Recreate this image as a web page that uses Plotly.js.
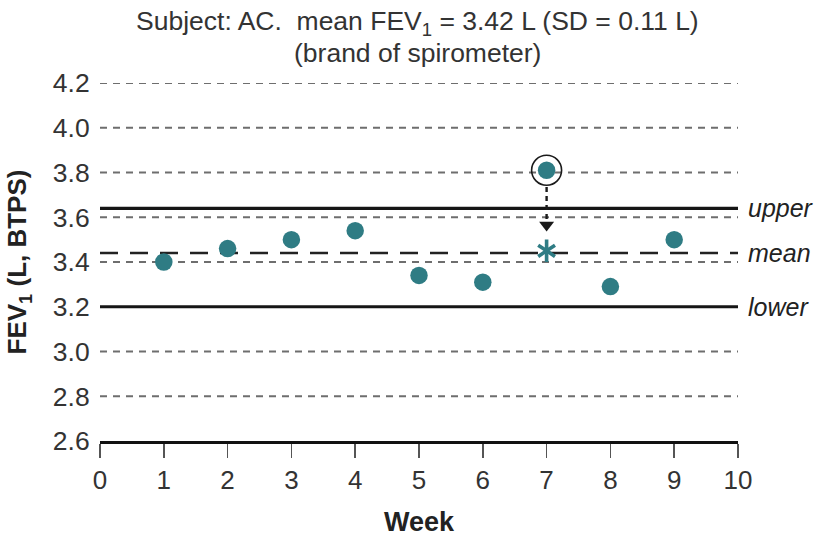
<!DOCTYPE html>
<html>
<head>
<meta charset="utf-8">
<script src="https://cdn.plot.ly/plotly-3.0.1.min.js"></script>
<style>html,body{margin:0;padding:0;background:#fff;}#chart{width:820px;height:537px;}</style>
</head>
<body>
<div id="chart"></div>
<script>
// Data
const weeks = [1, 2, 3, 4, 5, 6, 7, 8, 9];
const fev1 = [3.40, 3.46, 3.50, 3.54, 3.34, 3.31, 3.81, 3.29, 3.50];
const flaggedWeek = [7];
const flaggedValue = [3.81];
const correctedValue = [3.45];
const arrowYs = [3.735, 3.565];
const upperLimit = 3.64;
const meanLine = 3.44;
const lowerLimit = 3.20;
const lineXs = [0, 10];
const xTicks = [0, 1, 2, 3, 4, 5, 6, 7, 8, 9, 10];
const yTicks = [2.6, 2.8, 3.0, 3.2, 3.4, 3.6, 3.8, 4.0, 4.2];
const yTickText = ["2.6", "2.8", "3.0", "3.2", "3.4", "3.6", "3.8", "4.0", "4.2"];
const gridValues = [2.8, 3.0, 3.4, 3.6, 3.8, 4.0, 4.2];
const limitLabels = ["upper", "mean", "lower"];
const titleLine1 = "Subject: AC.&nbsp; mean FEV<sub>1</sub> = 3.42 L (SD = 0.11 L)";
const titleLine2 = "(brand of spirometer)";

const teal = "#2f7c84";
const FONT = "Liberation Sans, Arial, Helvetica, sans-serif";

const traces = [
  ...gridValues.map(v => ({
    x: lineXs, y: [v, v], mode: "lines", type: "scatter",
    line: {color: "#6e6e6e", width: 1.8, dash: "7px,6px"}
  })),
  {x: lineXs, y: [upperLimit, upperLimit], mode: "lines", type: "scatter",
   line: {color: "#151515", width: 3.2}},
  {x: lineXs, y: [lowerLimit, lowerLimit], mode: "lines", type: "scatter",
   line: {color: "#151515", width: 3.2}},
  {x: lineXs, y: [meanLine, meanLine], mode: "lines", type: "scatter",
   line: {color: "#222", width: 2.6, dash: "18px,12px"}},
  {x: [flaggedWeek[0], flaggedWeek[0]], y: arrowYs, mode: "lines", type: "scatter",
   line: {color: "#1a1a1a", width: 2.4, dash: "5px,4px"}},
  {x: flaggedWeek, y: [arrowYs[1]], mode: "markers", type: "scatter",
   marker: {symbol: "triangle-down", size: 13, color: "#1a1a1a"}},
  {x: flaggedWeek, y: flaggedValue, mode: "markers", type: "scatter",
   marker: {symbol: "circle-open", size: 30, color: "#1a1a1a", line: {width: 1.6}}},
  {x: weeks, y: fev1, mode: "markers", type: "scatter",
   marker: {symbol: "circle", size: 17.5, color: teal}},
  {x: flaggedWeek, y: correctedValue, mode: "markers", type: "scatter",
   marker: {symbol: "y-up-open", size: 14, color: teal, line: {color: teal, width: 3.6}}},
  {x: flaggedWeek, y: correctedValue, mode: "markers", type: "scatter",
   marker: {symbol: "y-down-open", size: 14, color: teal, line: {color: teal, width: 3.6}}}
];

const annotations = [upperLimit, meanLine, lowerLimit].map((v, i) => ({
  xref: "paper", yref: "y", x: 1.012, y: v, xanchor: "left", yanchor: "middle",
  text: "<i>" + limitLabels[i] + "</i>", showarrow: false,
  font: {family: FONT, size: 25, color: "#222"}
}));
annotations.push(
  {xref: "paper", yref: "paper", x: 0.4977, y: 1.168, xanchor: "center", yanchor: "middle",
   text: titleLine1, showarrow: false, font: {family: FONT, size: 26.5, color: "#333"}},
  {xref: "paper", yref: "paper", x: 0.4977, y: 1.085, xanchor: "center", yanchor: "middle",
   text: titleLine2, showarrow: false, font: {family: FONT, size: 26.5, color: "#333"}}
);

const layout = {
  width: 820, height: 537,
  margin: {l: 100, r: 82, t: 83, b: 96},
  paper_bgcolor: "#fff", plot_bgcolor: "#fff",
  showlegend: false, hovermode: false,
  font: {family: FONT, color: "#333", size: 20},
  xaxis: {
    range: [0, 10], tickvals: xTicks, ticktext: xTicks.map(String),
    showgrid: false, zeroline: false, showline: true, linecolor: "#111", linewidth: 3.2,
    ticks: "outside", ticklen: 14, tickwidth: 1.6, tickcolor: "#555",
    tickfont: {family: FONT, size: 26, color: "#333"},
    title: {text: "<b>Week</b>", font: {family: FONT, size: 27, color: "#222"}, standoff: 24},
    fixedrange: true
  },
  yaxis: {
    range: [2.6, 4.2], tickvals: yTicks, ticktext: yTickText,
    showgrid: false, zeroline: false, showline: false,
    ticks: "outside", ticklen: 4, tickcolor: "rgba(0,0,0,0)",
    tickfont: {family: FONT, size: 26.5, color: "#333"},
    title: {text: "<b>FEV<sub>1</sub> (L, BTPS)</b>", font: {family: FONT, size: 26, color: "#222"}, standoff: 18},
    fixedrange: true
  },
  annotations: annotations
};

Plotly.newPlot("chart", traces, layout, {displayModeBar: false, staticPlot: true});
</script>
</body>
</html>
